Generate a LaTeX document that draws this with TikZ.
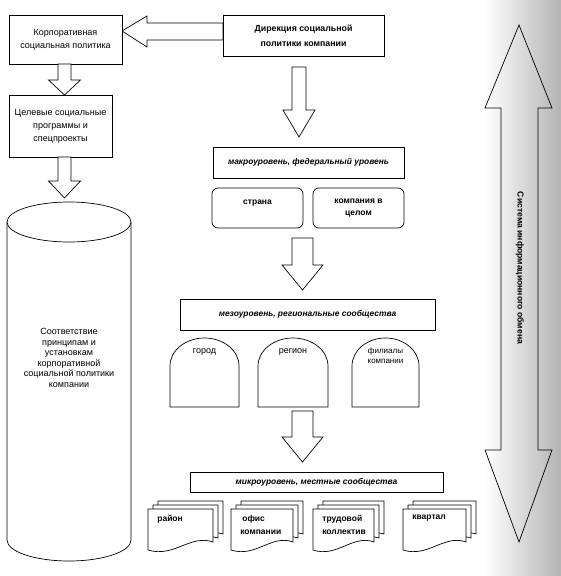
\documentclass[tikz,border=0pt]{standalone}
\usepackage{fontspec}
\setmainfont{Liberation Sans}
\usetikzlibrary{calc}

\newcommand{\blkdown}[6]{% cx, top, headbase, tip, shaft half, head half
  \draw[blk] ({#1-#5},#2) -- ({#1+#5},#2) -- ({#1+#5},#3) -- ({#1+#6},#3) -- (#1,#4) -- ({#1-#6},#3) -- ({#1-#5},#3) -- cycle;}
\newcommand{\archshape}[2]{% x1, x2
  \draw[shp] (#1,407) -- (#1,366) .. controls (#1,350.5) and ({(#1+#2)/2-0.5523*(#2-#1)/2},338) .. ({(#1+#2)/2},338)
    .. controls ({(#1+#2)/2+0.5523*(#2-#1)/2},338) and (#2,350.5) .. (#2,366) -- (#2,407) -- cycle;}
\newcommand{\docpage}[3]{% x1, x2, top
  \draw[shp] (#1,#3) -- (#2,#3) -- (#2,{#3+33}) .. controls ({#2-0.35*(#2-#1)},{#3+25}) and ({#1+0.4*(#2-#1)},{#3+49}) .. (#1,{#3+41}) -- cycle;}
\newcommand{\docstack}[2]{% x1, x2
  \docpage{#1+10}{#2+10}{501}
  \docpage{#1+5}{#2+5}{505}
  \docpage{#1}{#2}{509}}

\begin{document}
\begin{tikzpicture}[x=1pt,y=-1pt, line width=0.7pt,
  blk/.style={draw=black, fill=white, line join=miter},
  shp/.style={draw=black, fill=white},
  box/.style={draw=black, fill=white, inner sep=1pt, align=center, font=\fontsize{9}{13}\selectfont},
  boldbox/.style={box, font=\bfseries\fontsize{8.8}{15}\selectfont},
  levelbox/.style={box, font=\bfseries\itshape\fontsize{8.4}{10}\selectfont},
  rbox/.style={box, rounded corners=6pt, font=\bfseries\fontsize{8.5}{12.5}\selectfont},
  plain/.style={inner sep=0pt, align=center, font=\fontsize{9}{10.5}\selectfont},
  doctext/.style={inner sep=0pt, align=left, anchor=north west, font=\bfseries\fontsize{8.5}{12.5}\selectfont}
]
\useasboundingbox (0,0) rectangle (561,576);
\shade[left color=white, right color=black!30, draw=none] (485,0) rectangle (561,576);

% top row
\draw[blk] (122,31) -- (147,16) -- (147,23) -- (223,23) -- (223,40) -- (147,40) -- (147,47) -- cycle;
\node[box, minimum width=113pt, minimum height=49pt] (corp) at (65.5,39.5) {Корпоративная\\социальная политика};
\node[boldbox, minimum width=161pt, minimum height=41pt] (dir) at (303.5,35.5) {Дирекция социальной\\политики компании};

% left column
\blkdown{64.5}{64}{80}{95}{6.5}{16}
\node[box, minimum width=103pt, minimum height=62pt] (celev) at (60.5,126) {Целевые социальные\\программы и\\спецпроекты};
\blkdown{64.5}{157}{181}{198}{6.5}{16}
\draw[shp] (7,222) -- (7,540) .. controls (7,551.6) and (34.8,561) .. (69,561)
  .. controls (103.2,561) and (131,551.6) .. (131,540) -- (131,222);
\draw[shp] (69,222) ellipse [x radius=62pt, y radius=20pt];
\node[plain] (cyl) at (69,358) {Соответствие\\принципам и\\установкам\\корпоративной\\социальной политики\\компании};

% right column
\blkdown{299}{67}{110}{137}{7}{16}
\node[levelbox, minimum width=191pt, minimum height=31pt] (macro) at (308.5,162.5) {макроуровень, федеральный уровень};
\node[rbox, minimum width=91pt, minimum height=40pt] (strana) at (257.5,208) {страна\\\mbox{}};
\node[rbox, minimum width=91pt, minimum height=40pt] (komp) at (358.5,208) {компания в\\целом};

\blkdown{302.5}{238}{265}{290}{10.5}{20.5}
\node[levelbox, minimum width=255pt, minimum height=31pt] (mezo) at (307.5,314.5) {мезоуровень, региональные сообщества};
\archshape{170}{239}
\archshape{258}{328}
\archshape{352}{419}
\node[plain] (gorod) at (204.5,352) {город};
\node[plain] (region) at (293,352) {регион};
\node[plain, font=\fontsize{8}{10}\selectfont] (filial) at (385.5,356) {филиалы\\компании};

\blkdown{302.5}{411}{437}{462}{10.5}{20.5}
\node[levelbox, minimum width=253pt, minimum height=20pt] (micro) at (316.5,482) {микроуровень, местные сообщества};

\docstack{148}{213}
\docstack{231}{293}
\docstack{313}{374}
\docstack{403}{466}
\node[doctext] (rayon) at (157,515) {район};
\node[doctext] (ofis) at (240,515) {\hspace{2pt}офис\\компании};
\node[doctext] (trud) at (322,515) {трудовой\\коллектив};
\node[doctext] (kvart) at (412,515) {квартал};

% double arrow
\draw[draw=black, line join=miter] (519,25) -- (552,108) -- (538,108) -- (538,450) -- (552,450) -- (519,542)
  -- (485,450) -- (501,450) -- (501,108) -- (485,108) -- cycle;
\node[inner sep=0pt, rotate=-90, font=\bfseries\fontsize{8.6}{10}\selectfont] (sys) at (520,268) {Система информационного обмена};
\end{tikzpicture}
\end{document}
